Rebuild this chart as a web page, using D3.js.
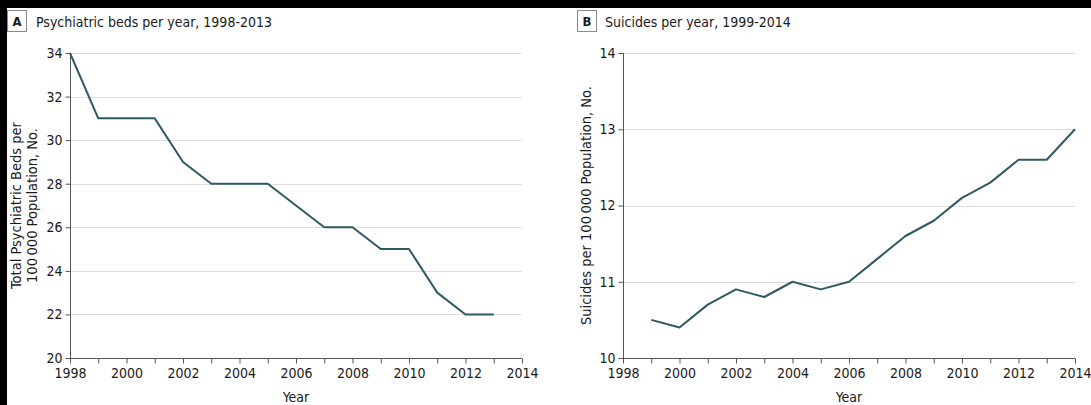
<!DOCTYPE html>
<html>
<head>
<meta charset="utf-8">
<script src="https://cdn.jsdelivr.net/npm/d3@7"></script>
<style>
  html, body { margin: 0; padding: 0; background: #000; }
  svg { display: block; }
  text { font-family: "DejaVu Sans Condensed", "Liberation Sans Narrow", "Liberation Sans", sans-serif; fill: #1a1a1a; }
</style>
</head>
<body>
<svg id="chart" width="1091" height="405"></svg>
<script>
// Panel A: psychiatric beds per 100 000 population, 1998-2013
const bedYears = [1998, 1999, 2000, 2001, 2002, 2003, 2004, 2005, 2006, 2007, 2008, 2009, 2010, 2011, 2012, 2013];
const bedValues = [34, 31, 31, 31, 29, 28, 28, 28, 27, 26, 26, 25, 25, 23, 22, 22];

// Panel B: suicides per 100 000 population, 1999-2014
const suicideYears = [1999, 2000, 2001, 2002, 2003, 2004, 2005, 2006, 2007, 2008, 2009, 2010, 2011, 2012, 2013, 2014];
const suicideValues = [10.5, 10.4, 10.7, 10.9, 10.8, 11.0, 10.9, 11.0, 11.3, 11.6, 11.8, 12.1, 12.3, 12.6, 12.6, 13.0];

const xTickLabels = [1998, 2000, 2002, 2004, 2006, 2008, 2010, 2012, 2014];
const bedTickLabels = [20, 22, 24, 26, 28, 30, 32, 34];
const suicideTickLabels = [10, 11, 12, 13, 14];

const svg = d3.select("#chart");
const lineColor = "#2f5965";
const gridColor = "#dedede";
const axisColor = "#555";

// white page with a black frame strip along top and left
svg.append("rect").attr("x", 7).attr("y", 8).attr("width", 1084).attr("height", 397).attr("fill", "#fff");

function drawPanel(opt) {
  const g = svg.append("g");
  const x = d3.scaleLinear().domain([1998, 2014]).range([opt.x0, opt.x0 + 452]);
  const y = d3.scaleLinear().domain(opt.yDomain).range([358, 53]);

  // panel letter box and title
  g.append("rect").attr("x", opt.boxX + 0.5).attr("y", 10.5).attr("width", 19).attr("height", 21)
    .attr("fill", "#fff").attr("stroke", "#8a8a8a").attr("stroke-width", 1);
  g.append("text").attr("x", opt.boxX + 10).attr("y", 26).attr("text-anchor", "middle")
    .style("font-weight", "bold").style("font-size", "13px").text(opt.letter);
  g.append("text").attr("x", opt.titleX).attr("y", 27).style("font-size", "14px").text(opt.title);

  // horizontal gridlines
  g.append("g").selectAll("line").data(opt.yTicks.filter(d => d !== opt.yDomain[0])).join("line")
    .attr("x1", opt.x0).attr("x2", opt.x0 + 452)
    .attr("y1", d => Math.round(y(d)) + 0.5).attr("y2", d => Math.round(y(d)) + 0.5)
    .attr("stroke", gridColor).attr("stroke-width", 1.2);

  // y axis
  const ya = g.append("g").attr("transform", `translate(${opt.x0 + 0.5},0)`)
    .call(d3.axisLeft(y).tickValues(opt.yTicks).tickSize(5).tickPadding(3).tickFormat(d3.format("d")));
  ya.select(".domain").attr("stroke", axisColor).attr("d", `M0,${y(opt.yDomain[1])}V${y(opt.yDomain[0])}`);
  ya.selectAll(".tick line").attr("stroke", axisColor);
  ya.selectAll(".tick text").style("font-size", "14px").style("font-family", null).attr("fill", "#1a1a1a");

  // x axis: yearly ticks, labels every second year
  const xa = g.append("g").attr("transform", "translate(0,358.5)")
    .call(d3.axisBottom(x).tickValues(d3.range(1998, 2015)).tickSize(5).tickPadding(5)
      .tickFormat(d => xTickLabels.includes(d) ? d : ""));
  xa.select(".domain").attr("stroke", axisColor).attr("d", `M${x(1998)},0H${x(2014)}`);
  xa.selectAll(".tick line").attr("stroke", axisColor);
  xa.selectAll(".tick text").style("font-size", "14px").style("font-family", null).attr("fill", "#1a1a1a");

  g.append("text").attr("x", opt.x0 + 226).attr("y", 402).attr("text-anchor", "middle")
    .style("font-size", "14px").text("Year");

  // y axis title
  opt.yLabel.forEach((s, i) => {
    g.append("text")
      .attr("transform", `translate(${opt.yLabelX + i * 16},205.5) rotate(-90)`)
      .attr("text-anchor", "middle").style("font-size", "14.5px").text(s);
  });

  // data line
  const pts = opt.years.map((yr, i) => [yr, opt.values[i]]);
  g.append("path").datum(pts)
    .attr("d", d3.line().x(d => x(d[0])).y(d => y(d[1])))
    .attr("fill", "none").attr("stroke", lineColor).attr("stroke-width", 2)
    .attr("stroke-linejoin", "round");
}

drawPanel({
  x0: 70, boxX: 7, titleX: 36, letter: "A",
  title: "Psychiatric beds per year, 1998-2013",
  yDomain: [20, 34], yTicks: bedTickLabels,
  yLabel: ["Total Psychiatric Beds per", "100\u2009000 Population, No."], yLabelX: 21,
  years: bedYears, values: bedValues
});

drawPanel({
  x0: 623, boxX: 577, titleX: 605, letter: "B",
  title: "Suicides per year, 1999-2014",
  yDomain: [10, 14], yTicks: suicideTickLabels,
  yLabel: ["Suicides per 100\u2009000 Population, No."], yLabelX: 591,
  years: suicideYears, values: suicideValues
});
</script>
</body>
</html>
